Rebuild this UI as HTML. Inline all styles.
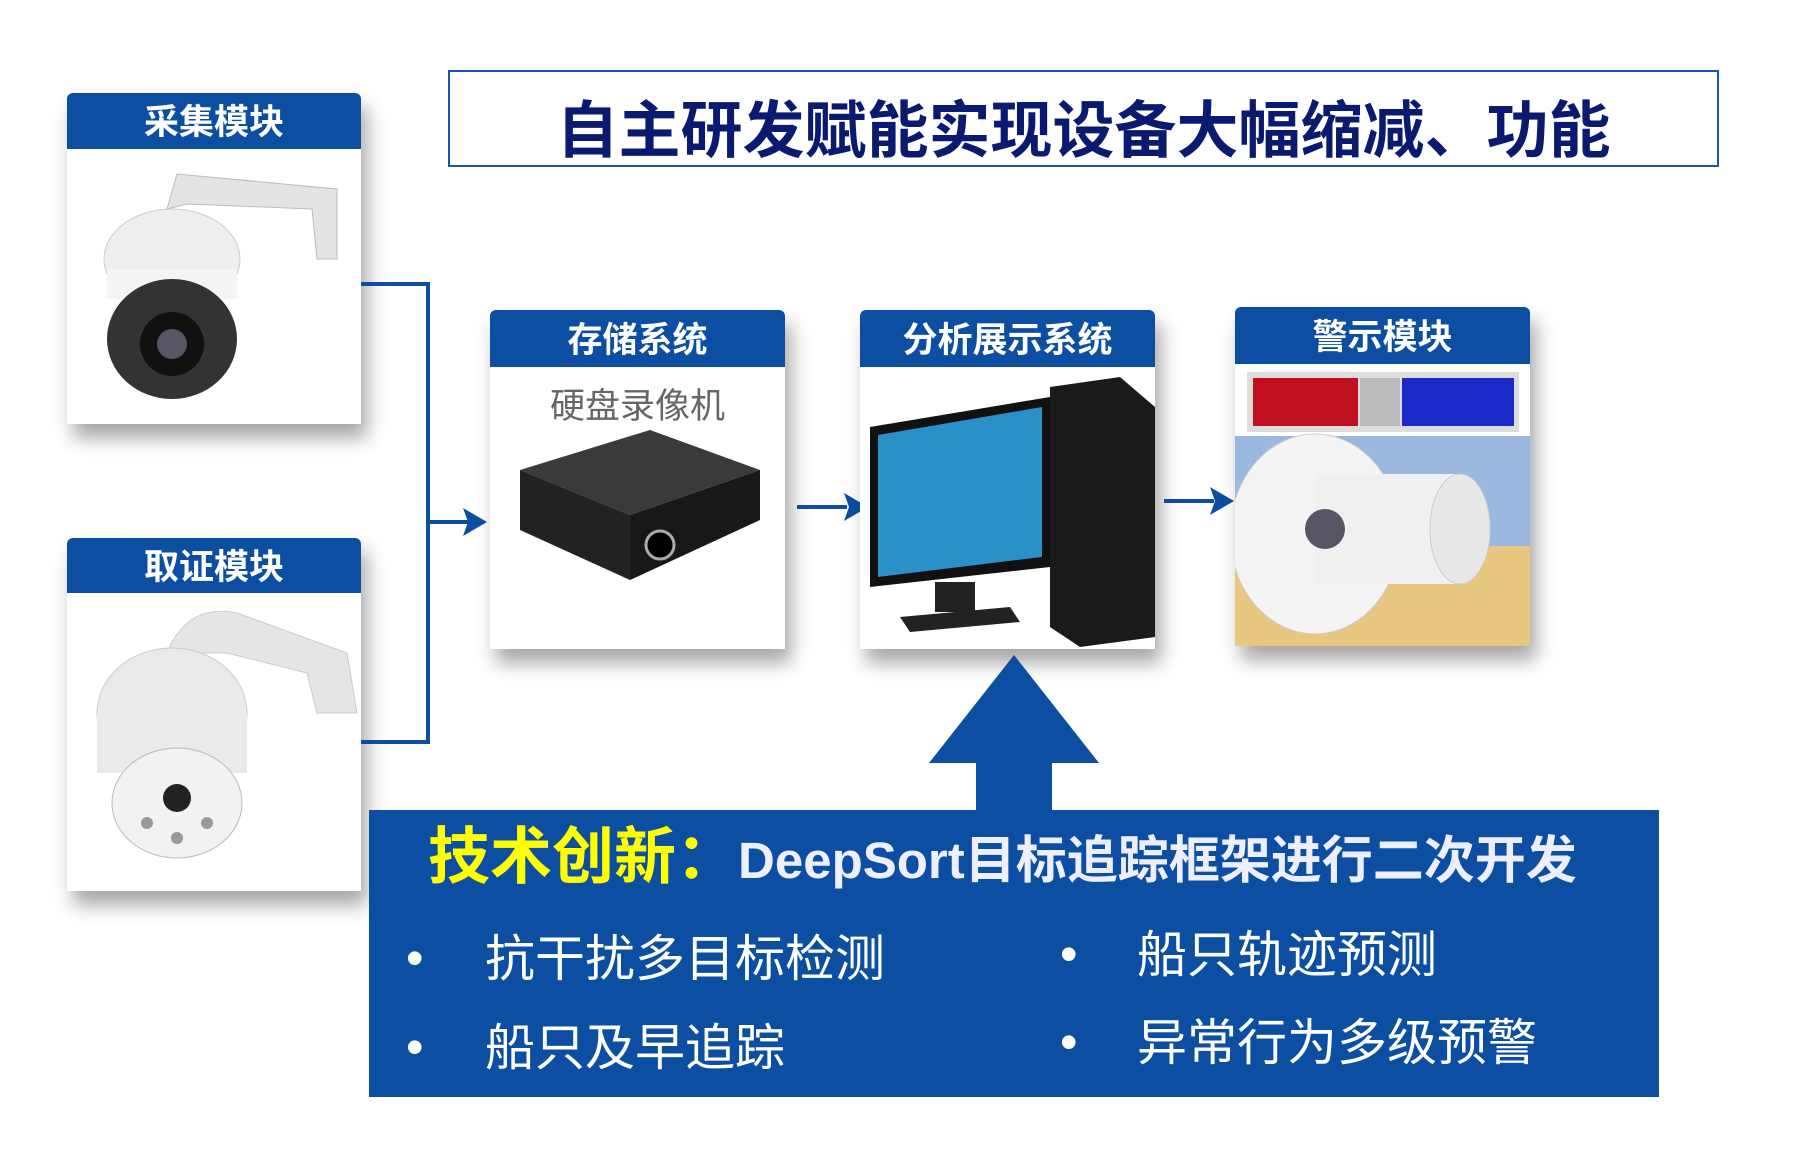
<!DOCTYPE html>
<html><head><meta charset="utf-8"><style>
*{margin:0;padding:0;box-sizing:border-box}
body{width:1799px;height:1164px;background:#fff;position:relative;overflow:hidden;font-family:"Liberation Sans","Noto Sans CJK SC",sans-serif}
.a{position:absolute}
.card{position:absolute;background:#fff;box-shadow:6px 14px 18px rgba(0,0,0,.35)}
.hd{position:absolute;left:0;top:0;width:100%;background:#0b4ea2;color:#fff;font-weight:bold;font-size:35px;text-align:center;border-radius:6px 6px 0 0}
.ln{position:absolute;background:#0b4ea2}
.wt{color:#fff;font-size:50px;position:absolute;white-space:nowrap}
</style></head><body>
<div class="a" style="left:448px;top:70px;width:1271px;height:97px;border:2px solid #1a56b0;"></div>
<div class="a" style="left:448px;top:80px;width:1271px;text-align:center;font-size:62px;font-weight:bold;color:#0a1a70;white-space:nowrap">自主研发赋能实现设备大幅缩减、功能</div>

<div class="card" style="left:67px;top:93px;width:294px;height:331px">
<div class="hd" style="height:56px;line-height:60px">采集模块</div>
<svg class="a" style="left:0;top:56px" width="294" height="275"><path d="M100 60 L110 25 L270 40 L270 110 L250 110 L245 60 L120 55Z" fill="#e4e4e4" stroke="#bbb"/><ellipse cx="105" cy="110" rx="68" ry="50" fill="#eee" stroke="#ccc"/><rect x="40" y="120" width="130" height="30" fill="#f4f4f4"/><ellipse cx="105" cy="190" rx="65" ry="60" fill="#333"/><circle cx="105" cy="195" r="32" fill="#111"/><circle cx="105" cy="195" r="15" fill="#556"/></svg>
</div>
<div class="card" style="left:67px;top:538px;width:294px;height:353px">
<div class="hd" style="height:55px;line-height:60px">取证模块</div>
<svg class="a" style="left:0;top:55px" width="294" height="298"><path d="M100 60 Q120 10 170 20 L280 60 L290 120 L250 120 L240 80 L160 60Z" fill="#e6e6e6" stroke="#ccc"/><ellipse cx="105" cy="120" rx="75" ry="65" fill="#eaeaea" stroke="#ccc"/><rect x="30" y="120" width="150" height="60" fill="#eaeaea"/><ellipse cx="110" cy="210" rx="65" ry="55" fill="#f2f2f2" stroke="#bbb"/><circle cx="110" cy="205" r="14" fill="#222"/><circle cx="80" cy="230" r="6" fill="#999"/><circle cx="140" cy="230" r="6" fill="#999"/><circle cx="110" cy="245" r="6" fill="#999"/></svg>
</div>

<div class="ln" style="left:361px;top:282px;width:67px;height:4px"></div>
<div class="ln" style="left:361px;top:740px;width:67px;height:4px"></div>
<div class="ln" style="left:426px;top:282px;width:4px;height:462px"></div>
<div class="ln" style="left:428px;top:520px;width:40px;height:4px"></div>
<svg class="a" style="left:463px;top:508px" width="24" height="28"><polygon points="0,0 24,14 0,28 5,14" fill="#0b4ea2"/></svg>

<div class="card" style="left:490px;top:310px;width:295px;height:339px">
<div class="hd" style="height:57px;line-height:62px">存储系统</div>
<div class="a" style="left:0;top:68px;width:295px;text-align:center;font-size:35px;color:#666">硬盘录像机</div>
<svg class="a" style="left:0;top:120px" width="295" height="219"><polygon points="30,40 160,0 270,40 140,85" fill="#3a3a3a"/><polygon points="30,40 140,85 140,150 30,100" fill="#222"/><polygon points="140,85 270,40 270,90 140,150" fill="#181818"/><circle cx="170" cy="115" r="14" fill="#000" stroke="#aaa" stroke-width="3"/></svg>
</div>

<div class="ln" style="left:797px;top:505px;width:50px;height:4px"></div>
<svg class="a" style="left:844px;top:493px" width="24" height="28"><polygon points="0,0 24,14 0,28 5,14" fill="#0b4ea2"/></svg>

<div class="card" style="left:860px;top:310px;width:295px;height:339px">
<div class="hd" style="height:57px;line-height:62px">分析展示系统</div>
<svg class="a" style="left:0;top:57px" width="295" height="282"><polygon points="190,20 260,10 295,40 295,270 220,280 190,260" fill="#1a1a1a"/><polygon points="10,60 190,30 190,200 10,220" fill="#111"/><polygon points="18,68 182,40 182,190 18,210" fill="#2a90c8"/><rect x="75" y="215" width="40" height="30" fill="#222"/><polygon points="40,250 150,240 160,255 50,265" fill="#222"/></svg>
</div>

<div class="ln" style="left:1164px;top:499px;width:50px;height:4px"></div>
<svg class="a" style="left:1210px;top:487px" width="24" height="28"><polygon points="0,0 24,14 0,28 5,14" fill="#0b4ea2"/></svg>

<div class="card" style="left:1235px;top:307px;width:295px;height:339px">
<div class="hd" style="height:57px;line-height:62px">警示模块</div>
<svg class="a" style="left:0;top:57px" width="295" height="282"><rect x="12" y="8" width="272" height="60" fill="#ddd"/><rect x="18" y="14" width="105" height="48" fill="#c01020"/><rect x="125" y="14" width="40" height="48" fill="#bbb"/><rect x="167" y="14" width="112" height="48" fill="#1a2ac8"/><rect x="0" y="72" width="295" height="210" fill="#e8c880"/><rect x="0" y="72" width="295" height="110" fill="#9ab8e0"/><ellipse cx="80" cy="170" rx="85" ry="100" fill="#f4f4f4" stroke="#ccc"/><rect x="80" y="110" width="150" height="110" fill="#f0f0f0"/><ellipse cx="225" cy="165" rx="30" ry="55" fill="#e8e8e8" stroke="#ccc"/><circle cx="90" cy="165" r="20" fill="#556"/></svg>
</div>

<svg class="a" style="left:929px;top:655px" width="170" height="160"><polygon points="85,0 170,108 123,108 123,160 47,160 47,108 0,108" fill="#0b4ea2"/></svg>
<div class="a" style="left:369px;top:810px;width:1290px;height:287px;background:#0b4ea2"></div>
<div class="a" style="left:428px;top:806px;white-space:nowrap"><span style="color:#ffff00;font-weight:bold;font-size:62px">技术创新：</span><span style="color:#eef;font-weight:bold;font-size:51px">DeepSort目标追踪框架进行二次开发</span></div>
<div class="wt" style="left:406px;top:929px">•</div><div class="wt" style="left:485px;top:919px">抗干扰多目标检测</div>
<div class="wt" style="left:406px;top:1018px">•</div><div class="wt" style="left:485px;top:1008px">船只及早追踪</div>
<div class="wt" style="left:1060px;top:925px">•</div><div class="wt" style="left:1137px;top:915px">船只轨迹预测</div>
<div class="wt" style="left:1060px;top:1013px">•</div><div class="wt" style="left:1137px;top:1003px">异常行为多级预警</div>
</body></html>
